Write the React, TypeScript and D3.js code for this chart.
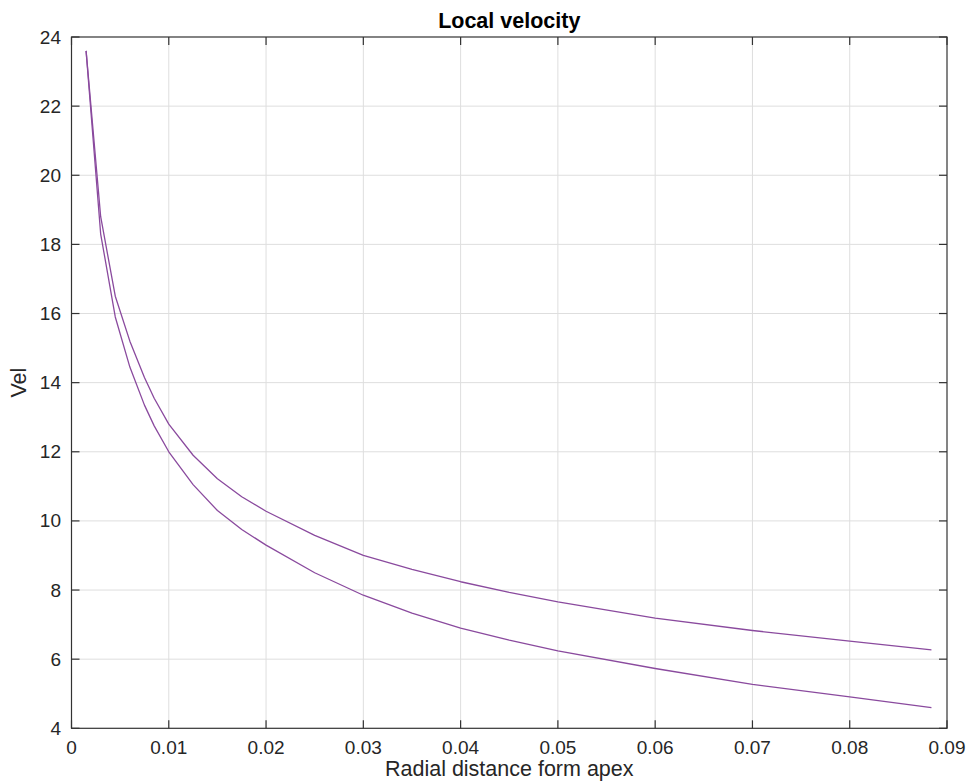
import React from "react";
import * as d3 from "d3";

// Radial distance from apex (x) and local velocity for the two profiles
const upperX = [0.0015, 0.003, 0.0045, 0.006, 0.0075, 0.0085, 0.01, 0.0125, 0.015, 0.0175, 0.02, 0.025, 0.03, 0.035, 0.04, 0.045, 0.05, 0.06, 0.07, 0.08, 0.0884];
const upperVel = [23.6, 18.8, 16.5, 15.2, 14.15, 13.55, 12.8, 11.9, 11.22, 10.7, 10.28, 9.58, 9.0, 8.6, 8.24, 7.93, 7.66, 7.19, 6.83, 6.52, 6.27];

const lowerX = [0.0015, 0.003, 0.0045, 0.006, 0.0075, 0.0085, 0.01, 0.0125, 0.015, 0.0175, 0.02, 0.025, 0.03, 0.035, 0.04, 0.045, 0.05, 0.06, 0.07, 0.08, 0.0884];
const lowerVel = [23.6, 18.3, 15.9, 14.45, 13.35, 12.75, 12.0, 11.05, 10.3, 9.75, 9.3, 8.5, 7.85, 7.33, 6.9, 6.55, 6.24, 5.73, 5.27, 4.91, 4.6];

const xTicks = [0, 0.01, 0.02, 0.03, 0.04, 0.05, 0.06, 0.07, 0.08, 0.09];
const yTicks = [4, 6, 8, 10, 12, 14, 16, 18, 20, 22, 24];

const W = 969;
const H = 782;
const left = 71.5;
const right = 947;
const top = 37;
const bottom = 728.3;

const FONT = "'Liberation Sans', Arial, Helvetica, sans-serif";
const LINE = "#8a4a9e";
const AXIS = "#333333";
const GRID = "#dedede";

export default function App() {
  const x = d3.scaleLinear().domain([0, 0.09]).range([left, right]);
  const y = d3.scaleLinear().domain([4, 24]).range([bottom, top]);

  const line = d3
    .line<[number, number]>()
    .x((d) => x(d[0]))
    .y((d) => y(d[1]));

  const upper = line(upperX.map((v, i) => [v, upperVel[i]] as [number, number])) || "";
  const lower = line(lowerX.map((v, i) => [v, lowerVel[i]] as [number, number])) || "";

  const tickLen = 8;

  return (
    <svg
      width={W}
      height={H}
      style={{ position: "absolute", left: 0, top: 0, background: "#fff" }}
      fontFamily={FONT}
    >
      <rect x={0} y={0} width={W} height={H} fill="#fff" />

      {/* grid */}
      {xTicks.slice(1, -1).map((t) => (
        <line key={`gx${t}`} x1={x(t)} x2={x(t)} y1={top} y2={bottom} stroke={GRID} strokeWidth={1} />
      ))}
      {yTicks.slice(1, -1).map((t) => (
        <line key={`gy${t}`} x1={left} x2={right} y1={y(t)} y2={y(t)} stroke={GRID} strokeWidth={1} />
      ))}

      {/* data */}
      <path d={upper} fill="none" stroke={LINE} strokeWidth={1.3} strokeLinejoin="round" />
      <path d={lower} fill="none" stroke={LINE} strokeWidth={1.3} strokeLinejoin="round" />

      {/* box */}
      <rect x={left} y={top} width={right - left} height={bottom - top} fill="none" stroke={AXIS} strokeWidth={1.2} />

      {/* ticks */}
      {xTicks.map((t) => (
        <g key={`tx${t}`}>
          <line x1={x(t)} x2={x(t)} y1={bottom} y2={bottom - tickLen} stroke={AXIS} strokeWidth={1.2} />
          <line x1={x(t)} x2={x(t)} y1={top} y2={top + tickLen} stroke={AXIS} strokeWidth={1.2} />
          <text x={x(t)} y={754} textAnchor="middle" fontSize={19} fill="#262626">
            {String(t)}
          </text>
        </g>
      ))}
      {yTicks.map((t) => (
        <g key={`ty${t}`}>
          <line x1={left} x2={left + tickLen} y1={y(t)} y2={y(t)} stroke={AXIS} strokeWidth={1.2} />
          <line x1={right} x2={right - tickLen} y1={y(t)} y2={y(t)} stroke={AXIS} strokeWidth={1.2} />
          <text x={61} y={y(t)} textAnchor="end" dominantBaseline="central" fontSize={19} fill="#262626">
            {String(t)}
          </text>
        </g>
      ))}

      {/* labels */}
      <text x={(left + right) / 2} y={28} textAnchor="middle" fontSize={21.5} fontWeight="bold" fill="#000">
        Local velocity
      </text>
      <text x={(left + right) / 2} y={776} textAnchor="middle" fontSize={21.5} fill="#262626">
        Radial distance form apex
      </text>
      <text
        transform={`translate(26, ${(top + bottom) / 2}) rotate(-90)`}
        textAnchor="middle"
        fontSize={21.5}
        fill="#262626"
      >
        Vel
      </text>
    </svg>
  );
}
